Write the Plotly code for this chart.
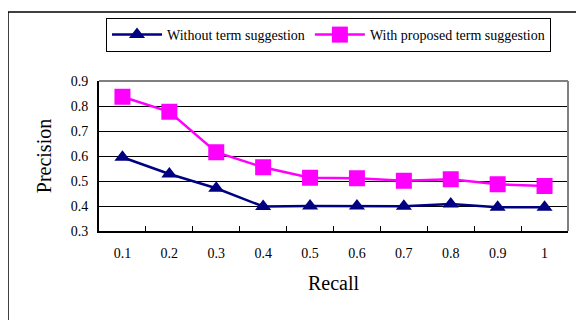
import plotly.graph_objects as go

recall = ["0.1", "0.2", "0.3", "0.4", "0.5", "0.6", "0.7", "0.8", "0.9", "1"]
without_term = [0.595, 0.528, 0.471, 0.398, 0.400, 0.400, 0.399, 0.408, 0.395, 0.395]
with_proposed = [0.837, 0.777, 0.615, 0.555, 0.513, 0.511, 0.501, 0.507, 0.487, 0.480]
y_ticks = [0.3, 0.4, 0.5, 0.6, 0.7, 0.8, 0.9]

FONT = "Liberation Serif, Times New Roman, serif"

# page has an 8px body margin; layout is offset to compensate
L, R, T, B = 91, 24, 73, 97
PW, PH = 584 - L - R, 320 - T - B

def px(xf):
    return (xf - L) / PW

def py(yf):
    return (320 - B - yf) / PH

fig = go.Figure()
fig.add_trace(go.Scatter(
    x=recall, y=without_term, name="Without term suggestion",
    mode="lines+markers",
    line=dict(color="#000080", width=2.5),
    marker=dict(symbol="triangle-up", size=14, color="#000080"),
))
fig.add_trace(go.Scatter(
    x=recall, y=with_proposed, name="With proposed term suggestion",
    mode="lines+markers",
    line=dict(color="#FF00FF", width=2.5),
    marker=dict(symbol="square", size=16, color="#FF00FF"),
))

fig.update_layout(
    width=584, height=320,
    margin=dict(l=L, r=R, t=T, b=B, autoexpand=False),
    paper_bgcolor="white", plot_bgcolor="white",
    font=dict(family=FONT, size=14, color="black"),
    showlegend=True,
    legend=dict(
        orientation="h", x=px(98), y=py(10), xanchor="left", yanchor="top",
        bordercolor="black", borderwidth=1, bgcolor="white",
        font=dict(family=FONT, size=14), itemwidth=50,
    ),
    xaxis=dict(
        type="category", showgrid=False, showline=True, linecolor="black", linewidth=2,
        ticks="inside", tickson="boundaries", ticklen=5, tickcolor="black",
        ticklabelstandoff=8,
        title=dict(text="Recall", font=dict(family=FONT, size=20), standoff=16),
        range=[-0.5, 9.5],
    ),
    yaxis=dict(
        range=[0.3, 0.9], tickvals=y_ticks, ticktext=[f"{v:.1f}" for v in y_ticks],
        showgrid=True, gridcolor="black", gridwidth=1,
        showline=True, linecolor="black", linewidth=2,
        ticks="outside", ticklen=6, tickcolor="rgba(0,0,0,0)",
        zeroline=False,
        title=dict(text="Precision", font=dict(family=FONT, size=20), standoff=14),
    ),
    shapes=[
        dict(type="line", xref="paper", yref="paper", x0=0, x1=1, y0=1, y1=1,
             line=dict(color="#808080", width=2)),
        dict(type="line", xref="paper", yref="paper", x0=1, x1=1, y0=0, y1=1,
             line=dict(color="#808080", width=2)),
        dict(type="line", xref="paper", yref="paper",
             x0=px(0), x1=px(600), y0=py(4), y1=py(4),
             line=dict(color="black", width=1.5)),
        dict(type="line", xref="paper", yref="paper",
             x0=px(0), x1=px(0), y0=py(4), y1=py(330),
             line=dict(color="black", width=1.5)),
    ],
)

fig.write_html("out.html")
